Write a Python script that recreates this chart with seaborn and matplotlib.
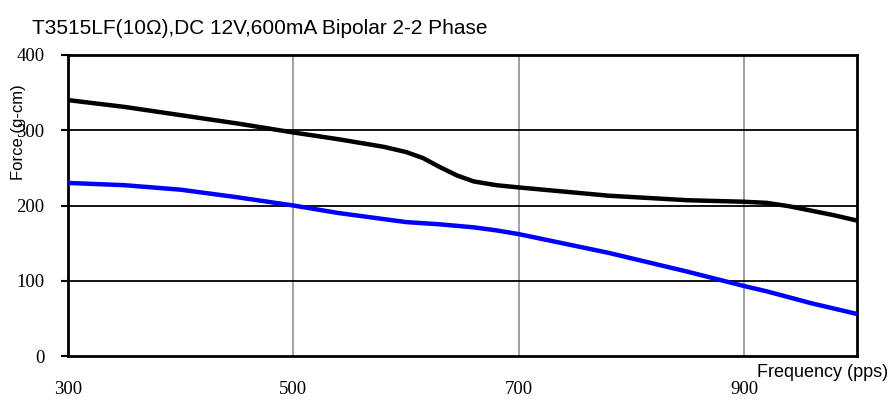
import matplotlib
matplotlib.use("Agg")
import matplotlib.pyplot as plt
import seaborn as sns
import pandas as pd

# frequency (pps) and pull-out force (g-cm)
freq = [300, 350, 400, 450, 500, 540, 580, 600, 615, 630, 645, 660, 680, 700,
        780, 850, 900, 920, 940, 960, 980, 1000]
force_black = [340, 331, 320, 309, 297, 288, 278, 271, 263, 251, 240, 232, 227, 224,
               213, 207, 205, 203.5, 199, 193, 187, 180]
force_blue = [230, 227, 221, 211, 200, 190, 182, 178, 176.5, 175, 173, 171, 167, 162,
              137, 112, 93, 86, 78, 70, 63, 56]

x_ticks = [300, 500, 700, 900]
y_ticks = [0, 100, 200, 300, 400]

df = pd.DataFrame({"freq": freq, "black": force_black, "blue": force_blue})

sns.set_style("white")
plt.rcParams["font.family"] = ["Liberation Sans", "DejaVu Sans"]
plt.rcParams["text.color"] = "black"
plt.rcParams["xtick.color"] = "black"
plt.rcParams["ytick.color"] = "black"

fig = plt.figure(figsize=(8.88, 4.01), dpi=100)
ax = fig.add_axes([0.0766, 0.112, 0.8884, 0.751])

# grid
for xv in [500, 700, 900]:
    ax.axvline(xv, color="#999999", lw=1.3, zorder=1)
for yv in [100, 200, 300]:
    ax.axhline(yv, color="black", lw=1.3, zorder=1)

sns.lineplot(data=df, x="freq", y="black", color="black", lw=3.2, ax=ax, zorder=3)
sns.lineplot(data=df, x="freq", y="blue", color="#0000ff", lw=3.2, ax=ax, zorder=3)

ax.set_xlim(300, 1000)
ax.set_ylim(0, 400)
ax.set_xticks(x_ticks)
ax.set_yticks(y_ticks)
for lab in ax.get_xticklabels() + ax.get_yticklabels():
    lab.set_family("Liberation Serif")
    lab.set_fontsize(13.5)
    lab.set_color("black")
ax.tick_params(axis="x", length=0, pad=18)
ax.tick_params(axis="y", length=5, width=1.5, direction="out", pad=12, left=True)
for s in ax.spines.values():
    s.set_color("black")
    s.set_linewidth(2)

ax.set_xlabel("")
ax.set_ylabel("")
fig.text(0.852, 0.072, "Frequency (pps)", fontsize=13, ha="left", va="center", color="black")
fig.text(0.021, 0.67, "Force (g-cm)", fontsize=12, rotation=90, ha="center", va="center",
         color="black")
fig.text(0.036, 0.928, "T3515LF(10\u03a9),DC 12V,600mA Bipolar 2-2 Phase",
         fontsize=15, ha="left", va="center", color="black")

fig.savefig("out.png", dpi=100)
